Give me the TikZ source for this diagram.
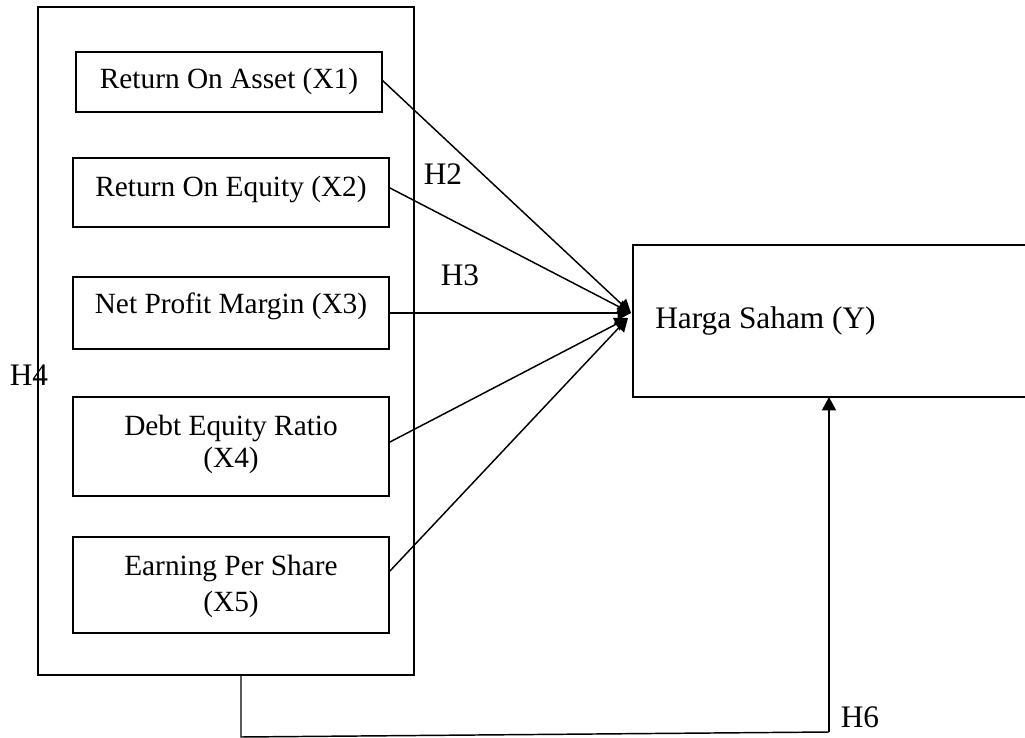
\documentclass[tikz,border=0pt]{standalone}
\usepackage{fontspec}
\setmainfont{Liberation Serif}
\usetikzlibrary{arrows.meta,calc}
\begin{document}
\begin{tikzpicture}[x=0.75pt,y=-0.75pt,
  box/.style={draw,line width=1.5pt,inner sep=0pt,outer sep=0pt,rectangle},
  btext/.style={font=\fontsize{22}{26}\selectfont,inner sep=0pt,anchor=base},
  hlabel/.style={font=\fontsize{23.5}{28}\selectfont,inner sep=0pt,anchor=base},
  conn/.style={line width=1.1pt,-{Triangle[length=10pt,width=10.5pt]}},
  plain/.style={line width=1.1pt}]
\useasboundingbox (0,0) rectangle (1025,738);
\clip (0,0) rectangle (1025,738);
% outer group box
\node[box,minimum width=282pt,minimum height=501pt] (outer) at (226,341) {};
% variable boxes
\node[box,minimum width=229.5pt,minimum height=45pt] (b1) at (229,82) {};
\node[box,minimum width=237pt,minimum height=51.75pt] (b2) at (231,192.5) {};
\node[box,minimum width=237pt,minimum height=54pt] (b3) at (231,313) {};
\node[box,minimum width=237pt,minimum height=74.25pt] (b4) at (231,446.5) {};
\node[box,minimum width=237pt,minimum height=72pt] (b5) at (231,585) {};
% texts
\node[btext] (t1) at (229,89) {Return On Asset (X1)};
\node[btext] (t2) at (231,197) {Return On Equity (X2)};
\node[btext] (t3) at (231,313) {Net Profit Margin (X3)};
\node[btext] (t4a) at (231,435) {Debt Equity Ratio};
\node[btext] (t4b) at (231,467) {(X4)};
\node[btext] (t5a) at (231,575) {Earning Per Share};
\node[btext] (t5b) at (231,611) {(X5)};
% dependent box
\node[box,minimum width=305.25pt,minimum height=114pt] (y) at (836.5,321) {};
\node[hlabel,anchor=base west] (ty) at (655,328) {Harga Saham (Y)};
% hypothesis labels
\node[hlabel] (h2) at (443,185) {H2};
\node[hlabel] (h3) at (460,285) {H3};
\node[hlabel] (h4) at (29,385) {H4};
\node[hlabel] (h6) at (860,727) {H6};
% arrow tips
\coordinate (tipA) at (631,313);
\coordinate (tipB) at (628,318);
\draw[conn] ($(b1.east)+(0,-2)$) -- (tipA);
\draw[conn] ($(b2.east)+(0,-5)$) -- (tipA);
\draw[conn] (b3.east) -- (tipA);
\draw[conn] ($(b4.east)+(0,-4)$) -- (tipB);
\draw[conn] ($(b5.east)+(0,-13)$) -- (tipB);
% H6 path
\coordinate (c2) at (241,737);
\coordinate (c3) at (829,732);
\draw[plain] (outer.south -| c2) -- (c2) -- (c3);
\draw[conn] (c3) -- (c3 |- y.south);
\end{tikzpicture}
\end{document}
